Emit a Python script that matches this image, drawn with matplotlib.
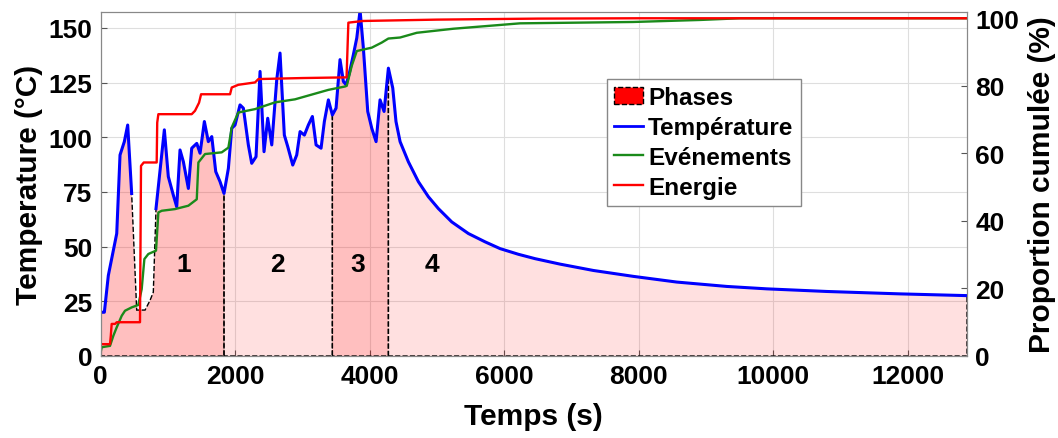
import numpy as np
import matplotlib
matplotlib.use("Agg")
import matplotlib.pyplot as plt
from matplotlib.patches import Polygon, Patch
from matplotlib.lines import Line2D

plt.rcParams['font.family'] = ['Liberation Sans', 'DejaVu Sans']
plt.rcParams['font.weight'] = 'bold'

# temperature (left axis), NaN = missing measurements
time_T = [0, 54, 113, 238, 287, 351, 401, 460, 500, 822, 946, 1005, 1080, 1130, 1179,
          1229, 1303, 1353, 1428, 1477, 1541, 1600, 1651, 1710, 1774, 1833, 1898, 1948,
          1997, 2071, 2121, 2195, 2245, 2309, 2369, 2428, 2483, 2543, 2617, 2666, 2730,
          2781, 2855, 2914, 2964, 3028, 3087, 3147, 3202, 3276, 3325, 3385, 3444, 3499,
          3558, 3608, 3648, 3697, 3756, 3807, 3856, 3905, 3970, 4030, 4094, 4153, 4213,
          4277, 4342, 4390, 4451, 4574, 4723, 4872, 5020, 5219, 5466, 5714, 5937, 6210,
          6458, 6830, 7325, 7920, 8565, 9309, 9903, 10796, 11886, 12880]
temp = [20.0, 20.0, 36.8, 56.0, 91.9, 98.0, 105.6, 74.3, np.nan, 67.4, 103.4, 82.0, 73.5,
        68.2, 94.2, 88.8, 76.6, 95.0, 97.2, 92.7, 107.2, 98.0, 100.3, 84.3, 79.7, 74.3,
        85.8, 104.1, 105.6, 114.8, 113.3, 96.5, 88.1, 91.1, 130.1, 93.4, 108.7, 96.5,
        126.3, 138.5, 101.0, 95.7, 87.3, 91.9, 102.6, 101.0, 105.6, 109.5, 96.5, 95.0,
        107.2, 117.1, 110.2, 113.3, 135.5, 125.5, 124.0, 129.4, 137.7, 145.4, 158.0,
        140.8, 111.8, 104.1, 98.0, 117.1, 111.8, 131.6, 122.5, 107.2, 98.0, 88.8, 79.7,
        72.8, 67.4, 61.3, 56.0, 52.2, 49.1, 46.5, 44.5, 42.0, 39.1, 36.4, 33.8, 31.8,
        30.7, 29.5, 28.4, 27.6]

# outline of the phase patch across the gap
gap_t = [535, 659, 733, 782]
gap_T = [21.0, 21.0, 25.4, 29.2]

# cumulative proportions (right axis)
time_E = [0, 0, 138, 150, 163, 213, 238, 584, 599, 640, 832, 840, 857, 1353, 1402, 1462,
          1492, 1923, 1948, 2046, 2294, 2344, 3000, 3655, 3682, 3900, 5000, 6500, 8000, 12880]
energie = [0, 3.5, 3.5, 6, 9.5, 9.5, 10, 10, 56.3, 57.3, 57.3, 69.1, 71.6, 71.6, 72.6, 75,
           77.5, 77.5, 79.5, 80.3, 81, 82, 82.3, 82.5, 98.7, 99.2, 99.6, 99.9, 100, 100]

time_N = [0, 15, 138, 188, 238, 312, 361, 461, 559, 609, 649, 708, 822, 857, 907, 1105,
          1303, 1428, 1452, 1551, 1799, 1898, 1948, 2046, 2294, 2592, 2889, 3385, 3633,
          3658, 3732, 3807, 4030, 4178, 4277, 4451, 4699, 5243, 6235, 7915, 8912, 9500, 12880]
evenements = [1.2, 2.6, 3, 6, 8.5, 11.9, 13.4, 14.4, 15.1, 19.8, 28.7, 30.2, 31.2, 42.5,
              43, 43.5, 44.5, 46.4, 57.3, 59.8, 60.3, 61.7, 67.7, 72.1, 73.1, 75.1, 76,
              78.8, 79.8, 80, 85.9, 90.3, 91.3, 92.8, 94, 94.3, 95.7, 96.9, 98.5, 98.9,
              99.5, 100, 100]

phase_bounds = [(0, 1833), (1833, 3444), (3444, 4277), (4277, 12880)]
phase_alpha = [0.25, 0.12, 0.25, 0.12]
phase_labels = ['1', '2', '3', '4']
label_x = [1239, 2622, 3826, 4927]

fig = plt.figure(figsize=(10.58, 4.39), dpi=100)
ax = fig.add_axes([0.0952, 0.1868, 0.8188, 0.7847])

# phase patches follow the temperature curve
tt = np.array(time_T, dtype=float)
TT = np.array(temp, dtype=float)
ok = ~np.isnan(TT)
pt = np.concatenate([tt[ok], gap_t])
pT = np.concatenate([TT[ok], gap_T])
order = np.argsort(pt, kind='stable')
pt, pT = pt[order], pT[order]

for (a, b), al in zip(phase_bounds, phase_alpha):
    m = (pt >= a) & (pt <= b)
    verts = [(a, 0)] + list(zip(pt[m], pT[m])) + [(b, 0)]
    ax.add_patch(Polygon(verts, closed=True, facecolor=(1, 0, 0, al),
                         edgecolor='k', linestyle='--', linewidth=1.0, zorder=2))

ax.plot(time_T, temp, color='#0000ff', lw=2.2, zorder=3)

for lx, lab in zip(label_x, phase_labels):
    ax.text(lx, 42, lab, fontsize=19, fontweight='bold', ha='center', va='center', zorder=4)

ax.set_xlim(0, 12880)
ax.set_ylim(0, 157.5)
ax.set_xticks(np.arange(0, 12001, 2000))
ax.set_yticks(np.arange(0, 151, 25))
ax.grid(True, color='#dedede', lw=0.8)
ax.set_axisbelow(True)
ax.set_xlabel('Temps (s)', fontsize=21.5, fontweight='bold', labelpad=10)
ax.set_ylabel('Temperature (°C)', fontsize=21.5, fontweight='bold', labelpad=4)

ax2 = ax.twinx()
ax2.plot(time_N, evenements, color='#1a8a1a', lw=1.7)
ax2.plot(time_E, energie, color='#ff0000', lw=1.7)
ax2.set_ylim(0, 102)
ax2.set_yticks(np.arange(0, 101, 20))
ax2.set_ylabel('Proportion cumulée (%)', fontsize=21.5, fontweight='bold', labelpad=6)

for a in (ax, ax2):
    a.tick_params(direction='in', labelsize=19, length=4, color='#555555', pad=6)
    for s in a.spines.values():
        s.set_color('#888888')
    for lbl in a.get_xticklabels() + a.get_yticklabels():
        lbl.set_fontweight('bold')

handles = [Patch(facecolor='red', edgecolor='k', linestyle='--', lw=1.0),
           Line2D([], [], color='#0000ff', lw=2.0),
           Line2D([], [], color='#1a8a1a', lw=1.7),
           Line2D([], [], color='#ff0000', lw=1.7)]
names = ['Phases', 'Température', 'Evénements', 'Energie']
leg = ax2.legend(handles, names, loc='upper left', bbox_to_anchor=(0.584, 0.804),
                 borderaxespad=0, fancybox=False, framealpha=1, edgecolor='#888888',
                 prop={'size': 17.5, 'weight': 'bold'}, handlelength=1.2,
                 handletextpad=0.2, labelspacing=0.28, borderpad=0.3)

fig.savefig('out.png', dpi=100)
